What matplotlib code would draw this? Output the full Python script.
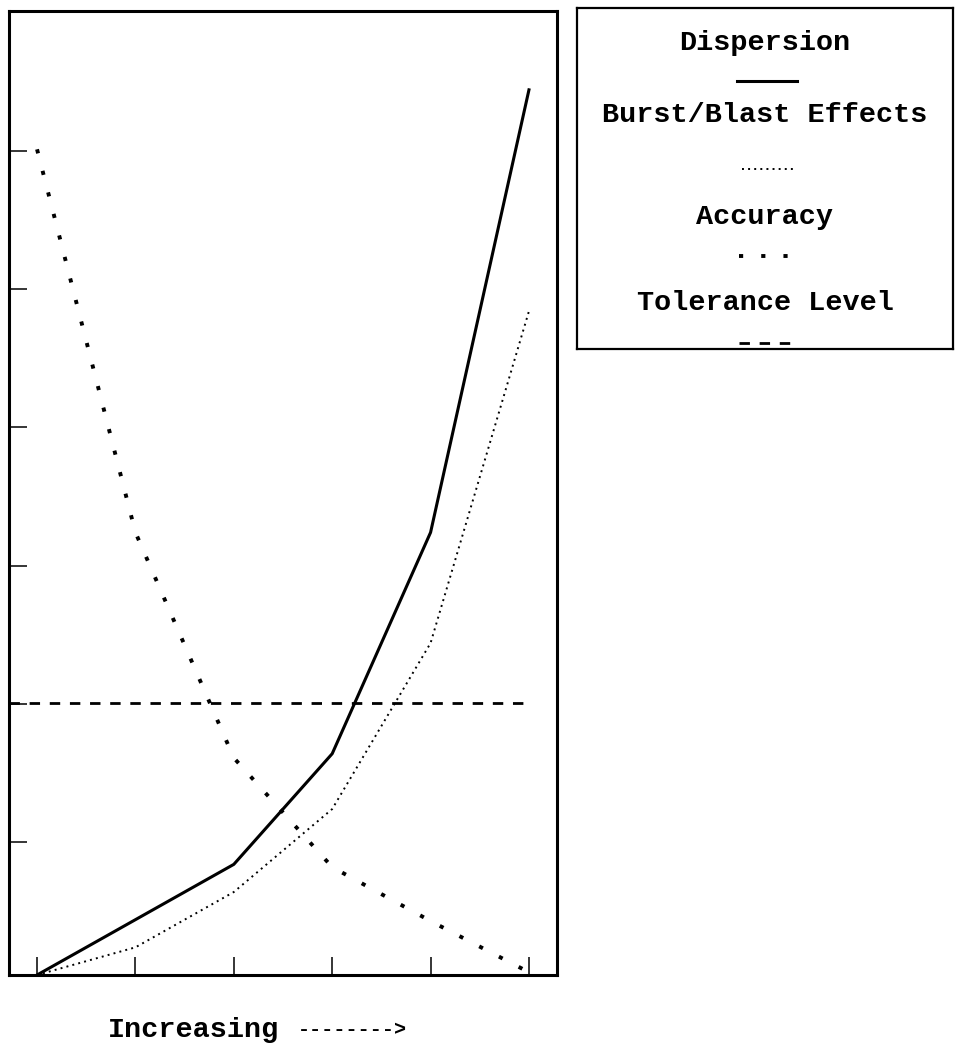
import numpy as np
import matplotlib
matplotlib.use('Agg')
import matplotlib.pyplot as plt

plt.rcParams['font.family'] = ['Liberation Mono', 'DejaVu Sans Mono']
plt.rcParams['lines.scale_dashes'] = False

# data
steps = [0, 1, 2, 3, 4, 5]
dispersion = [0.0, 0.4, 0.8, 1.6, 3.2, 6.4]
burst_blast = [0.0, 0.2, 0.6, 1.2, 2.4, 4.8]
accuracy = [5.97, 3.2, 1.57, 0.78, 0.39, 0.02]
tolerance = 1.97
yticks = [0.96, 1.96, 2.96, 3.96, 4.96, 5.96]

labels = ['Dispersion', 'Burst/Blast Effects', 'Accuracy', 'Tolerance Level']
styles = ['-', (0, (1.4, 3.0)), (0, (3.0, 13.0)), (0, (7.5, 7.0))]
widths = [2.2, 1.4, 2.8, 2.0]

W, H = 956, 1046
fig = plt.figure(figsize=(W / 100, H / 100), dpi=100)

# main plot, placed by pixel edges
ax = fig.add_axes([9 / W, 1 - 975 / H, (557 - 9) / W, (975 - 11) / H])
ax.set_xlim(-0.285, 5.285)
ax.set_ylim(0, 6.97)

series = [dispersion, burst_blast, accuracy]
for vals, ls, lw in zip(series, styles[:3], widths[:3]):
    ax.plot(steps, vals, color='black', linestyle=ls, linewidth=lw)
ax.hlines(tolerance, -0.285, steps[-1], color='black', linestyle=styles[3], linewidth=widths[3])

ax.set_xticks(steps)
ax.set_yticks(yticks)
ax.set_xticklabels([])
ax.set_yticklabels([])
ax.tick_params(direction='in', length=13, width=1.1, top=False, right=False)
for s in ax.spines.values():
    s.set_linewidth(2.2)

# x caption; the arrow part is set tighter, as in the original
fig.text(108 / W, 1 - 1030 / H, 'Increasing', fontsize=20.5,
         fontweight='bold', ha='left', va='center')
fig.text(298 / W, 1 - 1030 / H, '-------->', fontsize=14.5,
         fontweight='bold', ha='left', va='center')

# hand-made legend box
lg = fig.add_axes([577 / W, 1 - 349 / H, (953 - 577) / W, (349 - 8) / H])
lg.set_xlim(577, 953)
lg.set_ylim(349, 8)
lg.set_xticks([])
lg.set_yticks([])
for s in lg.spines.values():
    s.set_linewidth(1.6)

text_y = [43, 115, 217, 303]
sample_y = [81, 169, 256, 343]
sample_x = [(737, 797), (742, 793), (739, 789), (739, 790)]
for lab, ty, sy, sx, ls, lw in zip(labels, text_y, sample_y, sample_x, styles, widths):
    lg.text(765, ty, lab, fontsize=20.5, fontweight='bold', ha='center', va='center')
    lg.plot(sx, [sy, sy], color='black', linestyle=ls, linewidth=lw)

fig.savefig('out.png', dpi=100)
